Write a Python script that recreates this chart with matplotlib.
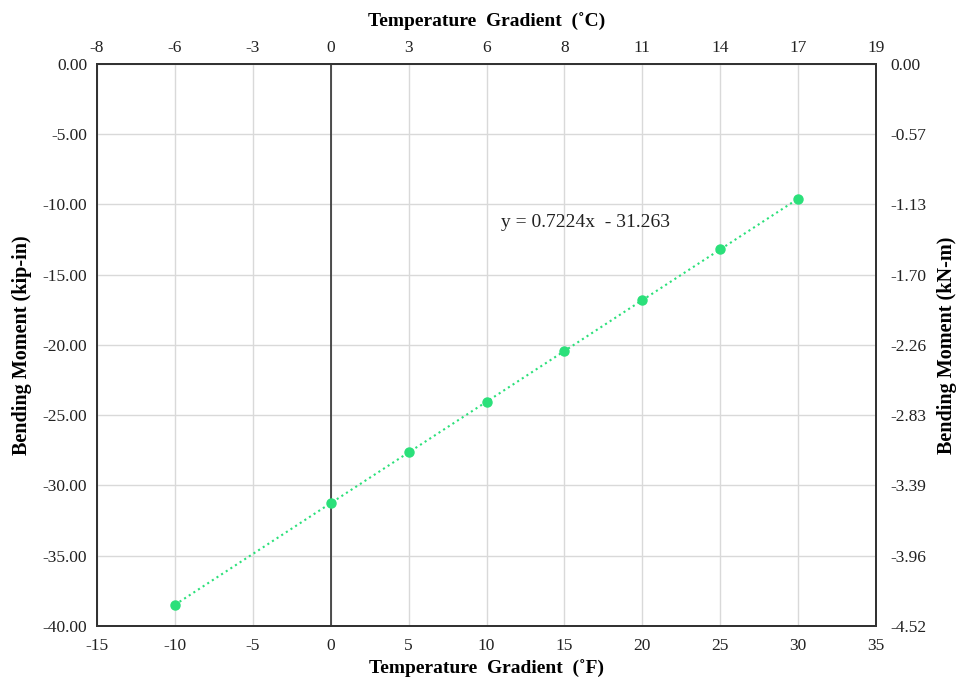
import matplotlib
matplotlib.use("Agg")
import matplotlib.pyplot as plt
from matplotlib.ticker import FixedLocator, FixedFormatter

plt.rcParams['font.family'] = ['Liberation Serif', 'DejaVu Serif']
plt.rcParams['axes.unicode_minus'] = False

temp_f = [-10, 0, 5, 10, 15, 20, 25, 30]
moment_kipin = [-38.49, -31.26, -27.65, -24.04, -20.43, -16.81, -13.20, -9.59]

x_ticks_f = [-15, -10, -5, 0, 5, 10, 15, 20, 25, 30, 35]
top_labels_c = ["-8", "-6", "-3", "0", "3", "6", "8", "11", "14", "17", "19"]
y_ticks = [0, -5, -10, -15, -20, -25, -30, -35, -40]
right_labels_knm = ["0.00", "-0.57", "-1.13", "-1.70", "-2.26", "-2.83", "-3.39", "-3.96", "-4.52"]
equation = "y = 0.7224x  - 31.263"

green = "#2BE07A"
spine_c = "#333333"
tick_fs = 12.5

fig = plt.figure(figsize=(9.58, 6.83), dpi=100)
ax = fig.add_axes([0.1013, 0.0835, 0.8131, 0.8228])

ax.set_xlim(-15, 35)
ax.set_ylim(-40, 0)
ax.set_xticks(x_ticks_f)
ax.set_yticks(y_ticks)
ax.set_yticklabels([f"{v:.2f}" for v in y_ticks])
ax.grid(True, color="#d9d9d9", linewidth=1.0)
ax.set_axisbelow(True)
ax.axvline(0, color="#222222", linewidth=1.1, zorder=1)

ax.plot(temp_f, moment_kipin, linestyle=":", color=green, linewidth=1.5, zorder=3)
ax.plot(temp_f, moment_kipin, linestyle="none", marker="o", markersize=6.5, color=green, zorder=4)

ax.text(10.9, -11.25, equation, fontsize=14, va="center", ha="left", color="#222222")

for s in ax.spines.values():
    s.set_color(spine_c)
    s.set_linewidth(1.3)
ax.tick_params(length=0, labelsize=tick_fs, pad=7, colors="#222222")
ax.tick_params(axis="x", pad=9)

ax.set_xlabel("Temperature  Gradient  (˚F)", fontsize=14, fontweight="bold", labelpad=4)
ax.set_ylabel("Bending Moment (kip-in)", fontsize=14.5, fontweight="bold", labelpad=8)

axt = ax.twiny()
axt.set_xlim(ax.get_xlim())
axt.xaxis.set_major_locator(FixedLocator(x_ticks_f))
axt.xaxis.set_major_formatter(FixedFormatter(top_labels_c))
axt.tick_params(length=0, labelsize=tick_fs, pad=6, colors="#222222")
axt.set_xlabel("Temperature  Gradient  (˚C)", fontsize=14, fontweight="bold", labelpad=9)

axr = ax.twinx()
axr.set_ylim(ax.get_ylim())
axr.yaxis.set_major_locator(FixedLocator(y_ticks))
axr.yaxis.set_major_formatter(FixedFormatter(right_labels_knm))
axr.tick_params(length=0, labelsize=tick_fs, pad=10, colors="#222222")
axr.set_ylabel("Bending Moment (kN-m)", fontsize=14.5, fontweight="bold", labelpad=8)

for a in (axt, axr):
    for s in a.spines.values():
        s.set_color(spine_c)
        s.set_linewidth(1.3)

fig.savefig("out.png", dpi=100, facecolor="white")
